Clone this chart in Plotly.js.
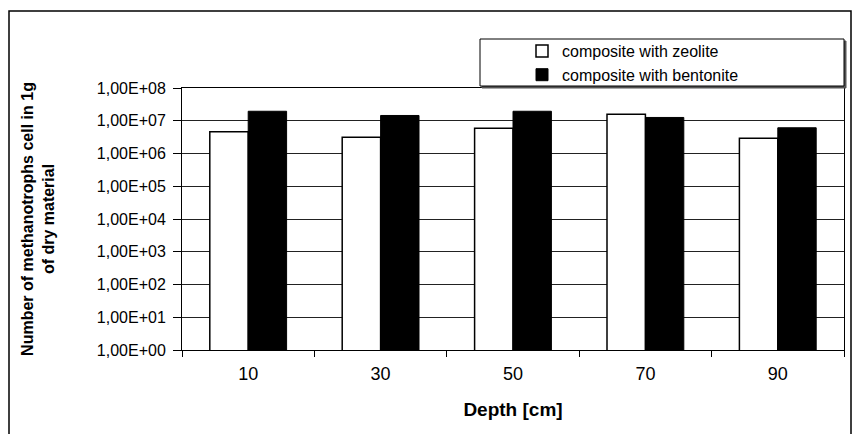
<!DOCTYPE html>
<html>
<head>
<meta charset="utf-8">
<script src="https://cdn.plot.ly/plotly-3.0.1.min.js"></script>
<style>
  html, body { margin: 0; padding: 0; background: #fff; }
  #chart { width: 852px; height: 434px; }
</style>
</head>
<body>
<div id="chart"></div>
<script>
const depths = ['10', '30', '50', '70', '90'];
const zeolite = [4.6e6, 3.15e6, 5.9e6, 1.58e7, 2.9e6];
const bentonite = [1.95e7, 1.45e7, 1.95e7, 1.26e7, 6.1e6];
const yTickVals = [1, 10, 100, 1000, 1e4, 1e5, 1e6, 1e7, 1e8];
const yTickText = ['1,00E+00', '1,00E+01', '1,00E+02', '1,00E+03', '1,00E+04',
                   '1,00E+05', '1,00E+06', '1,00E+07', '1,00E+08'];

const font = 'Liberation Sans, Arial, sans-serif';

const traces = [
  {
    type: 'bar', name: 'composite with zeolite', x: depths, y: zeolite,
    marker: { color: '#ffffff', line: { color: '#000000', width: 1.5 } }
  },
  {
    type: 'bar', name: 'composite with bentonite', x: depths, y: bentonite,
    marker: { color: '#000000', line: { color: '#000000', width: 1 } }
  }
];

const L = 182, R = 8, T = 88, B = 84, W = 852, H = 434;
const pw = W - L - R, ph = H - T - B;
const px = v => (v - L) / pw;
const py = v => 1 - (v - T) / ph;

const layout = {
  width: W, height: H,
  margin: { l: L, r: R, t: T, b: B, pad: 0 },
  paper_bgcolor: '#ffffff', plot_bgcolor: '#ffffff',
  font: { family: font, color: '#000000', size: 16 },
  barmode: 'group', bargap: 0.42, bargroupgap: 0,
  showlegend: true,
  legend: {
    x: px(522), xanchor: 'left', y: py(34), yanchor: 'top',
    bgcolor: 'rgba(0,0,0,0)', borderwidth: 0,
    font: { family: font, size: 16, color: '#000' },
    tracegroupgap: 0, itemclick: false
  },
  xaxis: {
    type: 'category', categoryorder: 'array', categoryarray: depths,
    showline: true, linecolor: '#000', linewidth: 1, mirror: true,
    ticks: 'outside', tickson: 'boundaries', ticklen: 6, tickcolor: '#000',
    showgrid: false, zeroline: false,
    tickfont: { family: font, size: 18, color: '#000' },
    ticklabelstandoff: 7,
    title: { text: '<b>Depth [cm]</b>', font: { family: font, size: 19, color: '#000' }, standoff: 20 }
  },
  yaxis: {
    type: 'log', range: [0, 8],
    tickvals: yTickVals, ticktext: yTickText,
    showline: true, linecolor: '#000', linewidth: 1, mirror: true,
    ticks: 'outside', ticklen: 8, tickcolor: '#000',
    showgrid: true, gridcolor: '#222', gridwidth: 1, zeroline: false,
    tickfont: { family: font, size: 16, color: '#000' },
    ticklabelstandoff: 4,
    title: { text: '<b>Number of methanotrophs cell in 1g<br>of dry material</b>',
             font: { family: font, size: 16, color: '#000' }, standoff: 38 }
  },
  shapes: [
    { type: 'rect', xref: 'paper', yref: 'paper', x0: px(9), x1: px(851), y0: py(440), y1: py(11),
      line: { color: '#000', width: 1.5 }, fillcolor: 'rgba(0,0,0,0)', layer: 'below' },
    { type: 'rect', xref: 'paper', yref: 'paper', x0: px(482), x1: px(846), y0: py(88), y1: py(41),
      line: { color: '#555', width: 1 }, fillcolor: '#555', layer: 'above' },
    { type: 'rect', xref: 'paper', yref: 'paper', x0: px(480), x1: px(844), y0: py(86), y1: py(39),
      line: { color: '#000', width: 1 }, fillcolor: '#ffffff', layer: 'above' }
  ]
};

Plotly.newPlot('chart', traces, layout, { staticPlot: true, displayModeBar: false });
</script>
</body>
</html>
